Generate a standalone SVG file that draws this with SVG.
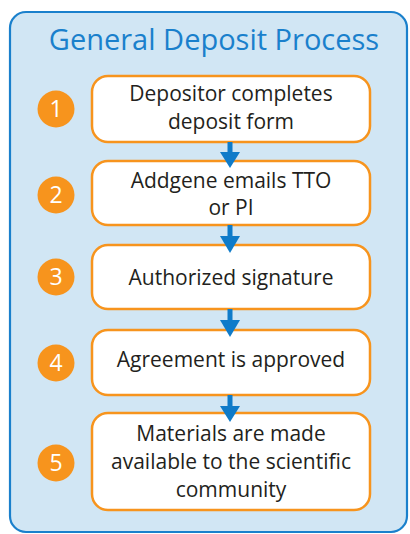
<svg xmlns="http://www.w3.org/2000/svg" width="410" height="534" viewBox="0 0 410 534">
<defs>
<style>
.box{fill:#ffffff;stroke:#f7941d;stroke-width:2.5}
.num{fill:#f7941d}
.numt{fill:#ffffff;font-family:"Open Sans",sans-serif;font-size:23px;text-anchor:middle}
.lbl{fill:#231f20;font-family:"Open Sans",sans-serif;font-size:21px;text-anchor:middle}
.conn line{stroke:#0f7bc9;stroke-width:5}
.conn polygon{fill:#0f7bc9}
</style>
</defs>
<rect x="10" y="12" width="397" height="520" rx="16" fill="#d1e6f4" stroke="#1a80cc" stroke-width="2.2"/>
<text x="214" y="50" fill="#1a80cc" font-family="Open Sans, sans-serif" font-size="29" text-anchor="middle">General Deposit Process</text>
<g id="node1">
<rect class="box" x="92" y="76" width="278" height="66" rx="16"/>
<circle class="num" cx="56" cy="109" r="18.5"/>
<text class="numt" x="56" y="117">1</text>
<text class="lbl" x="231" y="101">Depositor completes</text>
<text class="lbl" x="231" y="129">deposit form</text>
</g>
<g id="node2">
<rect class="box" x="92" y="161" width="278" height="64" rx="16"/>
<circle class="num" cx="56" cy="195" r="18.5"/>
<text class="numt" x="56" y="203">2</text>
<text class="lbl" x="231" y="188">Addgene emails TTO</text>
<text class="lbl" x="231" y="215">or PI</text>
</g>
<g id="node3">
<rect class="box" x="92" y="245" width="278" height="64" rx="16"/>
<circle class="num" cx="56" cy="277" r="18.5"/>
<text class="numt" x="56" y="285">3</text>
<text class="lbl" x="231" y="285">Authorized signature</text>
</g>
<g id="node4">
<rect class="box" x="92" y="330" width="278" height="65" rx="16"/>
<circle class="num" cx="56" cy="363" r="18.5"/>
<text class="numt" x="56" y="371">4</text>
<text class="lbl" x="231" y="367">Agreement is approved</text>
</g>
<g id="node5">
<rect class="box" x="92" y="413" width="278" height="97" rx="16"/>
<circle class="num" cx="56" cy="463" r="18.5"/>
<text class="numt" x="56" y="471">5</text>
<text class="lbl" x="231" y="441">Materials are made</text>
<text class="lbl" x="231" y="469">available to the scientific</text>
<text class="lbl" x="231" y="497">community</text>
</g>
<g id="connectors" class="conn">
<line x1="230" y1="142" x2="230" y2="154"/>
<polygon points="220,152 240,152 230,168"/>
<line x1="230" y1="225" x2="230" y2="238"/>
<polygon points="220,236 240,236 230,253"/>
<line x1="230" y1="309" x2="230" y2="322"/>
<polygon points="220,320 240,320 230,337"/>
<line x1="230" y1="395" x2="230" y2="408"/>
<polygon points="220,406 240,406 230,422"/>
</g>
</svg>
